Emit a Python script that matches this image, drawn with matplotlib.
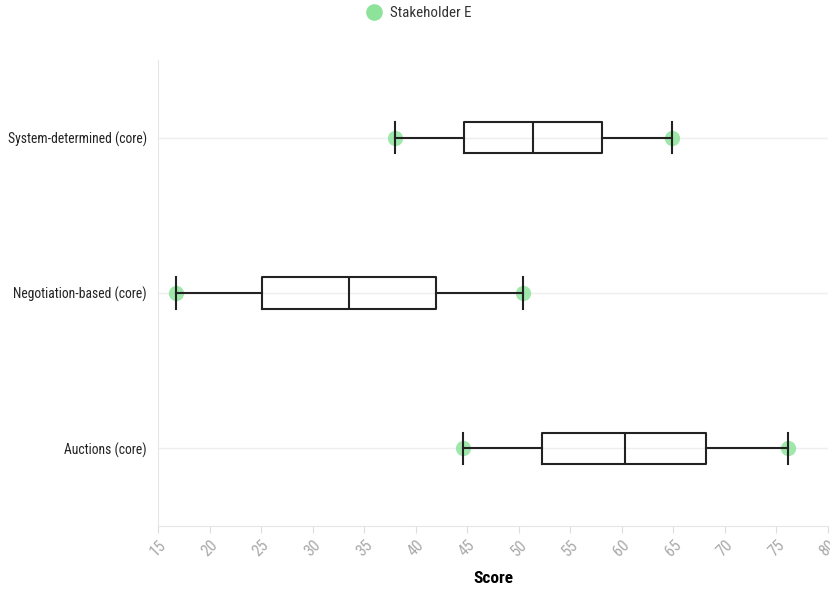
import matplotlib.pyplot as plt
from matplotlib.lines import Line2D
from matplotlib import font_manager as fm

categories = ['Auctions (core)', 'Negotiation-based (core)', 'System-determined (core)']
mins = [44.6, 16.7, 38.0]
q1s = [52.3, 25.1, 44.7]
medians = [60.3, 33.5, 51.4]
q3s = [68.2, 42.0, 58.1]
maxs = [76.1, 50.4, 64.9]
xticks = list(range(15, 81, 5))

green = '#8ee39b'

# condensed font if the machine has one, otherwise Roboto a bit smaller
names = {f.name for f in fm.fontManager.ttflist}
if 'Roboto Condensed' in names:
    plt.rcParams['font.family'] = ['Roboto Condensed', 'DejaVu Sans']
    scale = 1.0
else:
    plt.rcParams['font.family'] = ['Roboto', 'DejaVu Sans']
    scale = 0.85

fig = plt.figure(figsize=(8.3, 5.9), dpi=100)
ax = fig.add_axes([158 / 830, 64 / 590, 670 / 830, 466 / 590])

stats = []
for c, lo, a, m, b, hi in zip(categories, mins, q1s, medians, q3s, maxs):
    stats.append({'label': c, 'whislo': lo, 'q1': a, 'med': m, 'q3': b, 'whishi': hi, 'fliers': []})

line = dict(color='#222222', linewidth=1.5)
ax.bxp(stats, positions=range(len(categories)), orientation='horizontal', widths=0.2,
       showfliers=False, boxprops=line, medianprops=line, whiskerprops=line,
       capprops=line, capwidths=0.2)

for i in range(len(categories)):
    ax.plot([mins[i], maxs[i]], [i, i], 'o', color=green, markersize=11, alpha=0.85,
            markeredgewidth=0, zorder=1)

ax.set_xlim(15, 80)
ax.set_ylim(-0.5, 2.5)
ax.set_xticks(xticks)
ax.set_xticklabels([str(t) for t in xticks], rotation=45, color='#aaaaaa', fontsize=11.5 * scale)
ax.tick_params(axis='x', colors='#dddddd', length=5, labelcolor='#aaaaaa')
ax.tick_params(axis='y', length=0, labelsize=9.8 * scale, pad=8)
ax.set_yticks(range(len(categories)))
ax.set_yticklabels(categories, color='#222222')
ax.grid(axis='y', color='#eeeeee', linewidth=1)
ax.set_axisbelow(True)
for s in ['top', 'right']:
    ax.spines[s].set_visible(False)
for s in ['left', 'bottom']:
    ax.spines[s].set_color('#e6e6e6')

ax.set_xlabel('Score', fontsize=12.5 * scale, fontweight='bold', labelpad=8)

handle = Line2D([], [], marker='o', linestyle='none', color=green, markersize=12, markeredgewidth=0)
fig.legend([handle], ['Stakeholder E'], loc='center', bbox_to_anchor=(0.5, 1 - 13 / 590),
           frameon=False, fontsize=10.8 * scale, handletextpad=0.1, labelcolor='#333333')

fig.savefig('out.png', dpi=100)
